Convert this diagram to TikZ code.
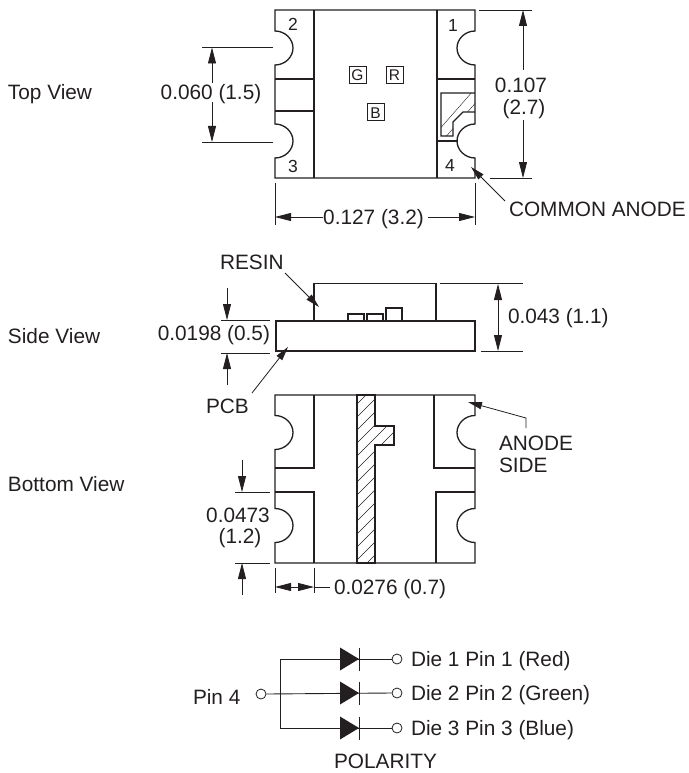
\documentclass[tikz,border=0pt]{standalone}
\usepackage{fontspec}
\setmainfont{Liberation Sans}
\usetikzlibrary{arrows.meta}
\definecolor{ink}{HTML}{231F20}
\newcommand\notch[4]{-- (#1,{#3-#4*17}) .. controls ({#1+#2*10},{#3-#4*17}) and ({#1+#2*18},{#3-#4*9}) .. ({#1+#2*18},#3) .. controls ({#1+#2*18},{#3+#4*9}) and ({#1+#2*10},{#3+#4*17}) .. (#1,{#3+#4*17})}
\tikzset{
  x=1pt,y=-1pt,
  body/.style={draw=ink,line width=1.3pt,line join=miter},
  dimline/.style={draw=ink,line width=0.8pt},
  ext/.style={draw=ink,line width=0.9pt},
  dimarrow/.style={dimline,-{Triangle[length=16pt,width=8pt]}},
  dimboth/.style={dimline,{Triangle[length=16pt,width=8pt]}-{Triangle[length=16pt,width=8pt]}},
  leader/.style={dimline,-{Triangle[length=14pt,width=7pt]}},
  hatchline/.style={draw=ink,line width=0.4pt},
  lbl/.style={text=ink,inner sep=0pt,outer sep=0pt,font=\fontsize{20.8}{24}\selectfont,text height=15pt,text depth=0pt},
  pad/.style={lbl,font=\fontsize{17.5}{20}\selectfont,text height=12.5pt},
  die/.style={lbl,draw=ink,line width=1pt,minimum width=17pt,minimum height=17pt,font=\fontsize{15.5}{16}\selectfont,text height=11pt},
  term/.style={circle,draw=ink,line width=0.8pt,minimum size=10pt,inner sep=0pt,fill=white},
  wire/.style={draw=ink,line width=0.9pt},
  diode/.style={fill=ink},
}
\begin{document}
\begin{tikzpicture}
\useasboundingbox (0,0) rectangle (688,773);
% ---- labels on the left
\node[lbl,anchor=west] (topv) at (8,92) {Top View};
\node[lbl,anchor=west] (sidev) at (8,336) {Side View};
\node[lbl,anchor=west] (botv) at (8,484) {Bottom View};
% ---- top view
\path[body] (275,10) -- (475,10) \notch{475}{-1}{48}{1} \notch{475}{-1}{141}{1} -- (475,178) -- (275,178) \notch{275}{1}{141}{-1} \notch{275}{1}{48}{-1} -- cycle;
\draw[body] (314,10) -- (314,178) (437,10) -- (437,178);
\draw[body] (275,79) -- (314,79) (275,111) -- (314,111) (437,79) -- (475,79) (437,141) -- (458,141);
\begin{scope}
  \clip (441,93) -- (475,93) -- (475,112) -- (463,112) -- (453,122) -- (453,136) -- (441,136) -- cycle;
  \foreach \k in {430,443,...,495} \draw[hatchline] (\k,140) -- ({\k+50},{140-57});
\end{scope}
\draw[body] (475,93) -- (441,93) -- (441,136) -- (453,136) -- (453,122) -- (463,112) -- (475,112);
\node[pad] (p2) at (293,24) {2};
\node[pad] (p1) at (453,25) {1};
\node[pad] (p3) at (293,166) {3};
\node[pad] (p4) at (450,165) {4};
\node[die] (g) at (357.5,75.5) {G};
\node[die] (r) at (394.5,75.5) {R};
\node[die] (b) at (375.5,112.5) {B};
% 0.060
\coordinate (a1) at (202,47.5); \coordinate (a2) at (273,47.5);
\coordinate (a3) at (202,142); \coordinate (a4) at (273,142);
\coordinate (a5) at (212,47.5); \coordinate (a6) at (212,142);
\coordinate (a7) at (212,83); \coordinate (a8) at (212,102);
\draw[ext] (a1) -- (a2); \draw[ext] (a3) -- (a4);
\draw[dimarrow] (a7) -- (a5); \draw[dimarrow] (a8) -- (a6);
\node[lbl] (d060) at (211,92) {0.060 (1.5)};
% 0.107
\coordinate (b1) at (479,10); \coordinate (b2) at (532,10);
\coordinate (b3) at (490,178); \coordinate (b4) at (532,178);
\coordinate (b5) at (523,10); \coordinate (b6) at (523,70);
\coordinate (b7) at (523,178); \coordinate (b8) at (523,120);
\draw[ext] (b1) -- (b2); \draw[ext] (b3) -- (b4);
\draw[dimarrow] (b6) -- (b5); \draw[dimarrow] (b8) -- (b7);
\node[lbl] (d107a) at (521,85) {0.107};
\node[lbl] (d107b) at (524,107) {(2.7)};
% common anode
\node[lbl,anchor=west] (ca) at (509,209) {COMMON ANODE};
\coordinate (c1) at (505,201); \coordinate (c2) at (471,167);
\draw[leader] (c1) -- (c2);
% 0.127
\node[lbl] (d127) at (373.5,217) {0.127 (3.2)};
\coordinate (e1) at (275,183); \coordinate (e2) at (275,225);
\coordinate (e3) at (475,183); \coordinate (e4) at (475,225);
\coordinate (e5) at (275,217); \coordinate (e6) at (323,217);
\coordinate (e7) at (475,217); \coordinate (e8) at (428,217);
\draw[ext] (e1) -- (e2); \draw[ext] (e3) -- (e4);
\draw[dimarrow] (e6) -- (e5); \draw[dimarrow] (e8) -- (e7);
% ---- side view
\draw[body] (314,321) -- (314,283.5) -- (436,283.5) -- (436,321);
\draw[body] (276,321) rectangle (475,351);
\draw[body] (348,321) -- (348,314) -- (364,314) -- (364,321);
\draw[body] (367,321) -- (367,314) -- (383,314) -- (383,321);
\draw[body] (386,321) -- (386,308) -- (402,308) -- (402,321);
\node[lbl,anchor=west] (resin) at (220,262) {RESIN};
\coordinate (f1) at (285,273); \coordinate (f2) at (319,307);
\draw[leader] (f1) -- (f2);
% 0.043
\coordinate (h1) at (440,283.5); \coordinate (h2) at (523,283.5);
\coordinate (h3) at (481,351); \coordinate (h4) at (523,351);
\coordinate (h5) at (498,284); \coordinate (h6) at (498,351);
\draw[ext] (h1) -- (h2); \draw[ext] (h3) -- (h4);
\draw[dimboth] (h5) -- (h6);
\node[lbl,anchor=west] (d043) at (508,316) {0.043 (1.1)};
% 0.0198
\coordinate (i1) at (221,320); \coordinate (i2) at (270,320);
\coordinate (i3) at (221,353); \coordinate (i4) at (270,353);
\coordinate (i5) at (227,288); \coordinate (i6) at (227,320);
\coordinate (i7) at (227,385); \coordinate (i8) at (227,353);
\draw[ext] (i1) -- (i2); \draw[ext] (i3) -- (i4);
\draw[dimarrow] (i5) -- (i6); \draw[dimarrow] (i7) -- (i8);
\node[lbl,anchor=east] (d0198) at (270,333) {0.0198 (0.5)};
% PCB
\node[lbl,anchor=west] (pcb) at (206,406) {PCB};
\coordinate (j1) at (252,393); \coordinate (j2) at (288,347);
\draw[leader] (j1) -- (j2);
% ---- bottom view
\path[body] (275,395) -- (475,395) \notch{475}{-1}{432.5}{1} \notch{475}{-1}{525.5}{1} -- (475,563) -- (275,563) \notch{275}{1}{525.5}{-1} \notch{275}{1}{432.5}{-1} -- cycle;
\draw[body] (314,395) -- (314,468) -- (275,468) (275,492) -- (314,492) -- (314,563);
\draw[body] (434,395) -- (434,468) -- (475,468) (475,492) -- (436,492) -- (436,563);
\begin{scope}
  \clip (357,395) -- (375,395) -- (375,426) -- (394,426) -- (394,445) -- (375,445) -- (375,563) -- (357,563) -- cycle;
  \foreach \k in {385,398,...,600} \draw[hatchline] (350,\k) -- (400,{\k-50});
\end{scope}
\draw[body] (357,395) -- (375,395) -- (375,426) -- (394,426) -- (394,445) -- (375,445) -- (375,563) -- (357,563) -- cycle;
% 0.0473
\coordinate (k1) at (235,492); \coordinate (k2) at (270,492);
\coordinate (k3) at (235,563); \coordinate (k4) at (270,563);
\coordinate (k5) at (242,460); \coordinate (k6) at (242,492);
\coordinate (k7) at (242,595); \coordinate (k8) at (242,563);
\draw[ext] (k1) -- (k2); \draw[ext] (k3) -- (k4);
\draw[dimarrow] (k5) -- (k6); \draw[dimarrow] (k7) -- (k8);
\node[lbl] (d0473a) at (238,515) {0.0473};
\node[lbl] (d0473b) at (240,536) {(1.2)};
% 0.0276
\coordinate (l1) at (275,568); \coordinate (l2) at (275,593);
\coordinate (l3) at (314,568); \coordinate (l4) at (314,593);
\coordinate (l5) at (275,587); \coordinate (l6) at (295,587);
\coordinate (l7) at (314,587); \coordinate (l8) at (330,587);
\draw[ext] (l1) -- (l2); \draw[ext] (l3) -- (l4);
\draw[dimarrow] (l6) -- (l5); \draw[dimarrow] (l6) -- (l7); \draw[dimline] (l7) -- (l8);
\node[lbl,anchor=west] (d0276) at (334,587) {0.0276 (0.7)};
% anode side
\node[lbl,anchor=west] (as1) at (499,443) {ANODE};
\node[lbl,anchor=west] (as2) at (499,465) {SIDE};
\coordinate (m1) at (526,428); \coordinate (m2) at (526,418); \coordinate (m3) at (468,402);
\draw[leader] (m1) -- (m2) -- (m3);
% ---- polarity
\node[lbl,anchor=west] (pin4) at (193,697) {Pin 4};
\node[term] (t0) at (261,694) {};
\node[term] (t1) at (397,659) {};
\node[term] (t2) at (397,693) {};
\node[term] (t3) at (397,728) {};
\node[lbl,anchor=west] (l1t) at (411,659) {Die 1 Pin 1 (Red)};
\node[lbl,anchor=west] (l2t) at (411,693) {Die 2 Pin 2 (Green)};
\node[lbl,anchor=west] (l3t) at (411,728) {Die 3 Pin 3 (Blue)};
\node[lbl] (pol) at (385.5,761) {POLARITY};
\coordinate (n1) at (280,659); \coordinate (n2) at (280,694); \coordinate (n3) at (280,728);
\draw[wire] (n1) -- (n3);
\draw[wire] (n1) -- (t1.west);
\draw[wire] (t0.east) -- (t2.west);
\draw[wire] (n3) -- (t3.west);
\foreach \y in {659,693,728} {
  \fill[diode] (340,{\y-11.5}) -- (359,\y) -- (340,{\y+11.5}) -- cycle;
  \draw[wire] (359,{\y-11.5}) -- (359,{\y+11.5});
}
\end{tikzpicture}
\end{document}
